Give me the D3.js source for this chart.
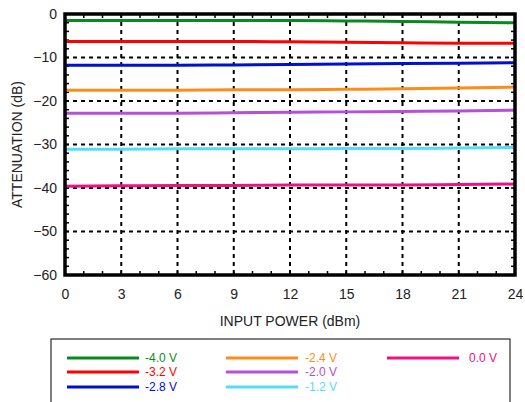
<!DOCTYPE html>
<html>
<head>
<meta charset="utf-8">
<script src="https://cdn.jsdelivr.net/npm/d3@7"></script>
<style>
  body { margin: 0; background: #fff; }
  text { font-family: "Liberation Sans", Arial, sans-serif; }
</style>
</head>
<body>
<div class="canvas"></div>
<script>
// data
const inputPower = [0, 3, 6, 9, 12, 15, 18, 21, 24];
const seriesNames = ['-4.0 V', '-3.2 V', '-2.8 V', '-2.4 V', '-2.0 V', '-1.2 V', '0.0 V'];
const seriesColors = ['#0a8a1e', '#ff0000', '#0010d0', '#ff8c1a', '#b84fd8', '#55ddf5', '#ee1181'];
const att40 = [-1.5, -1.5, -1.5, -1.5, -1.5, -1.6, -1.7, -1.9, -2.0];
const att32 = [-6.3, -6.3, -6.3, -6.3, -6.4, -6.5, -6.6, -6.7, -6.7];
const att28 = [-11.8, -11.8, -11.8, -11.7, -11.6, -11.5, -11.4, -11.3, -11.2];
const att24 = [-17.5, -17.5, -17.5, -17.4, -17.4, -17.3, -17.2, -17.0, -16.8];
const att20 = [-22.8, -22.8, -22.8, -22.7, -22.6, -22.5, -22.4, -22.3, -22.1];
const att12 = [-31.1, -31.1, -31.0, -31.0, -31.0, -30.9, -30.9, -30.8, -30.7];
const att00 = [-39.6, -39.5, -39.4, -39.4, -39.3, -39.3, -39.3, -39.2, -39.1];
const seriesValues = [att40, att32, att28, att24, att20, att12, att00];
const xTicks = [0, 3, 6, 9, 12, 15, 18, 21, 24];
const yTicks = [0, -10, -20, -30, -40, -50, -60];

const width = 525, height = 402;
const margin = {top: 14, right: 10, bottom: 127, left: 65};
const graphWidth = 515 - margin.left;
const graphHeight = 275 - margin.top;

const svg = d3.select('.canvas')
  .append('svg')
    .attr('width', width)
    .attr('height', height);

const graph = svg.append('g')
  .attr('transform', `translate(${margin.left}, ${margin.top})`);

// scales
const x = d3.scaleLinear().domain([0, 24]).range([0, graphWidth]);
const y = d3.scaleLinear().domain([-60, 0]).range([graphHeight, 0]);

// dashed grid
graph.append('g')
  .selectAll('line')
  .data(xTicks.slice(1, -1))
  .join('line')
    .attr('x1', d => x(d)).attr('x2', d => x(d))
    .attr('y1', 0).attr('y2', graphHeight)
    .attr('stroke', '#000').attr('stroke-width', 2)
    .attr('stroke-dasharray', '4,4');

graph.append('g')
  .selectAll('line')
  .data(yTicks.slice(1, -1))
  .join('line')
    .attr('x1', 0).attr('x2', graphWidth)
    .attr('y1', d => y(d)).attr('y2', d => y(d))
    .attr('stroke', '#000').attr('stroke-width', 2)
    .attr('stroke-dasharray', '4,4');

// minor ticks inside the frame
const minorX = d3.range(1, 24);
const minorY = d3.range(-58, 0, 2);
const tickLen = 4;
const ticks = graph.append('g').attr('stroke', '#000').attr('stroke-width', 1.5);
ticks.selectAll('.tb').data(minorX).join('line')
  .attr('x1', d => x(d)).attr('x2', d => x(d))
  .attr('y1', graphHeight).attr('y2', graphHeight - tickLen);
ticks.selectAll('.tt').data(minorX).join('line')
  .attr('x1', d => x(d)).attr('x2', d => x(d))
  .attr('y1', 0).attr('y2', tickLen);
ticks.selectAll('.tl').data(minorY).join('line')
  .attr('x1', 0).attr('x2', tickLen)
  .attr('y1', d => y(d)).attr('y2', d => y(d));
ticks.selectAll('.tr').data(minorY).join('line')
  .attr('x1', graphWidth).attr('x2', graphWidth - tickLen)
  .attr('y1', d => y(d)).attr('y2', d => y(d));

// series lines
const line = d3.line()
  .x((d, i) => x(inputPower[i]))
  .y(d => y(d))
  .curve(d3.curveMonotoneX);

graph.append('g')
  .selectAll('path')
  .data(seriesValues)
  .join('path')
    .attr('d', line)
    .attr('fill', 'none')
    .attr('stroke', (d, i) => seriesColors[i])
    .attr('stroke-width', 3);

// frame
graph.append('rect')
  .attr('width', graphWidth)
  .attr('height', graphHeight)
  .attr('fill', 'none')
  .attr('stroke', '#000')
  .attr('stroke-width', 3.5);

// axes labels
const xAxis = d3.axisBottom(x).tickValues(xTicks).tickSize(0).tickPadding(14);
const yAxis = d3.axisLeft(y).tickValues(yTicks).tickSize(0).tickPadding(8);

const xAxisGroup = graph.append('g')
  .attr('transform', `translate(0, ${graphHeight})`)
  .call(xAxis);
const yAxisGroup = graph.append('g').call(yAxis);

[xAxisGroup, yAxisGroup].forEach(g => {
  g.select('.domain').remove();
  g.selectAll('text')
    .attr('font-size', 14)
    .attr('font-family', '"Liberation Sans", Arial, sans-serif')
    .attr('fill', '#222');
});

svg.append('text')
  .attr('x', margin.left + graphWidth / 2)
  .attr('y', 326)
  .attr('text-anchor', 'middle')
  .attr('font-size', 14)
  .attr('fill', '#222')
  .text('INPUT POWER (dBm)');

svg.append('text')
  .attr('transform', `translate(22, ${margin.top + graphHeight / 2}) rotate(-90)`)
  .attr('text-anchor', 'middle')
  .attr('font-size', 14)
  .attr('fill', '#222')
  .text('ATTENUATION (dB)');

// legend
svg.append('rect')
  .attr('x', 51).attr('y', 339)
  .attr('width', 459).attr('height', 80)
  .attr('fill', 'none')
  .attr('stroke', '#000')
  .attr('stroke-width', 1);

const legendCols = [[67, 139, 145], [226, 298, 305], [387, 459, 469]];
const legendRows = [358, 372, 387];
const legendPos = [[0, 0], [0, 1], [0, 2], [1, 0], [1, 1], [1, 2], [2, 0]];

const legend = svg.append('g')
  .selectAll('g')
  .data(seriesNames)
  .join('g');

legend.append('line')
  .attr('x1', (d, i) => legendCols[legendPos[i][0]][0])
  .attr('x2', (d, i) => legendCols[legendPos[i][0]][1])
  .attr('y1', (d, i) => legendRows[legendPos[i][1]])
  .attr('y2', (d, i) => legendRows[legendPos[i][1]])
  .attr('stroke', (d, i) => seriesColors[i])
  .attr('stroke-width', 3);

legend.append('text')
  .attr('x', (d, i) => legendCols[legendPos[i][0]][2])
  .attr('y', (d, i) => legendRows[legendPos[i][1]] + 4)
  .attr('font-size', 12)
  .attr('fill', (d, i) => seriesColors[i])
  .text(d => d);
</script>
</body>
</html>
